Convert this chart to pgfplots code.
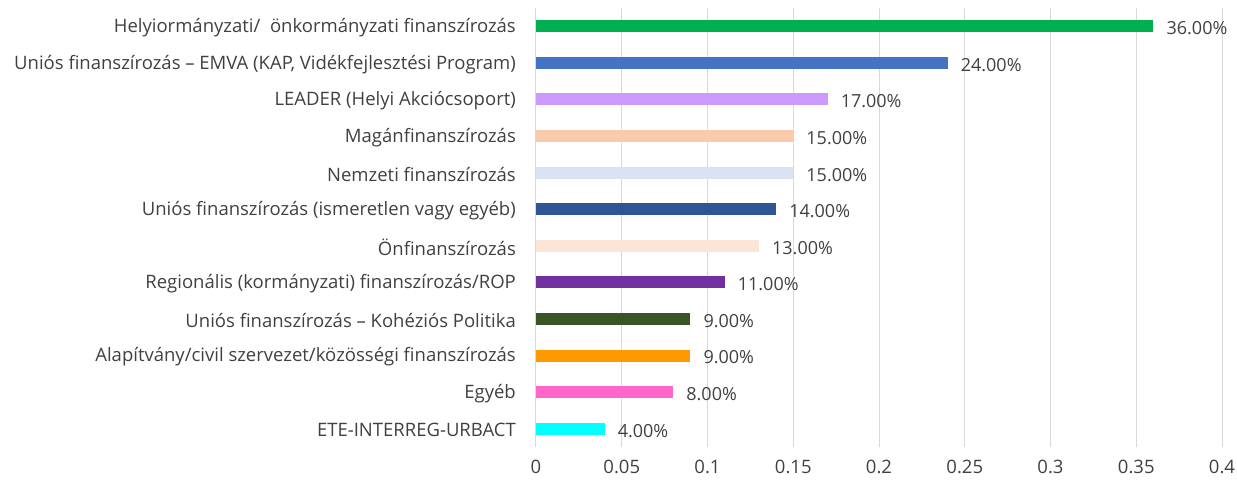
\documentclass[border=0pt]{standalone}
\usepackage{pgfplots}
\pgfplotsset{compat=1.18}
\usepackage{fontspec}
\setmainfont{Open Sans}
\definecolor{c1}{HTML}{00B050}
\definecolor{c2}{HTML}{4472C4}
\definecolor{c3}{HTML}{CC99FF}
\definecolor{c4}{HTML}{F8CBAD}
\definecolor{c5}{HTML}{DAE3F3}
\definecolor{c6}{HTML}{2F5597}
\definecolor{c7}{HTML}{FBE5D6}
\definecolor{c8}{HTML}{7030A0}
\definecolor{c9}{HTML}{375623}
\definecolor{c10}{HTML}{FF9900}
\definecolor{c11}{HTML}{FF66CC}
\definecolor{c12}{HTML}{00FFFF}
\definecolor{txt}{HTML}{404040}
\definecolor{grd}{HTML}{D9D9D9}
\begin{document}
\begin{tikzpicture}
\begin{axis}[
  at={(536pt,33pt)}, anchor=south west,
  scale only axis, width=686pt, height=439pt,
  xmin=0, xmax=0.4, ymin=-0.5, ymax=11.5,
  xbar, bar width=12pt, bar shift=0pt,
  xtick={0,0.05,...,0.4},
  xticklabels={0,0.05,0.1,0.15,0.2,0.25,0.3,0.35,0.4},
  ytick={0,...,11},
  yticklabels={ETE-INTERREG-URBACT, Egyéb, Alapítvány/civil szervezet/közösségi finanszírozás, Uniós finanszírozás – Kohéziós Politika, Regionális (kormányzati) finanszírozás/ROP, Önfinanszírozás, Uniós finanszírozás (ismeretlen vagy egyéb), Nemzeti finanszírozás, Magánfinanszírozás, LEADER (Helyi Akciócsoport), {Uniós finanszírozás – EMVA (KAP, Vidékfejlesztési Program)}, Helyiormányzati/\ \ önkormányzati finanszírozás},
  xmajorgrids, grid style={grd, line width=1pt},
  axis line style={draw=none},
  major tick length=0pt,
  tick label style={font=\fontsize{18.5}{21}\selectfont, text=txt, inner sep=0pt},
  yticklabel style={anchor=east, xshift=-20pt, yshift=-1.5pt},
  xticklabel style={anchor=north, yshift=-13pt},
  /pgf/number format/assume math mode=true,
  point meta=x*100,
  nodes near coords={\pgfmathprintnumber[fixed,fixed zerofill,precision=2]{\pgfplotspointmeta}\%},
  nodes near coords align={horizontal},
  every node near coord/.append style={anchor=west, inner sep=0pt, xshift=13pt, yshift=-2pt, text=txt, font=\fontsize{18}{21}\selectfont},
  clip=false,
]
\addplot[fill=c1, draw=none] coordinates {(0.36,11)};
\addplot[fill=c2, draw=none] coordinates {(0.24,10)};
\addplot[fill=c3, draw=none] coordinates {(0.17,9)};
\addplot[fill=c4, draw=none] coordinates {(0.15,8)};
\addplot[fill=c5, draw=none] coordinates {(0.15,7)};
\addplot[fill=c6, draw=none] coordinates {(0.14,6)};
\addplot[fill=c7, draw=none] coordinates {(0.13,5)};
\addplot[fill=c8, draw=none] coordinates {(0.11,4)};
\addplot[fill=c9, draw=none] coordinates {(0.09,3)};
\addplot[fill=c10, draw=none] coordinates {(0.09,2)};
\addplot[fill=c11, draw=none] coordinates {(0.08,1)};
\addplot[fill=c12, draw=none] coordinates {(0.04,0)};
\end{axis}
\pgfresetboundingbox
\path (0,0) rectangle (1237pt,480pt);
\end{tikzpicture}
\end{document}
